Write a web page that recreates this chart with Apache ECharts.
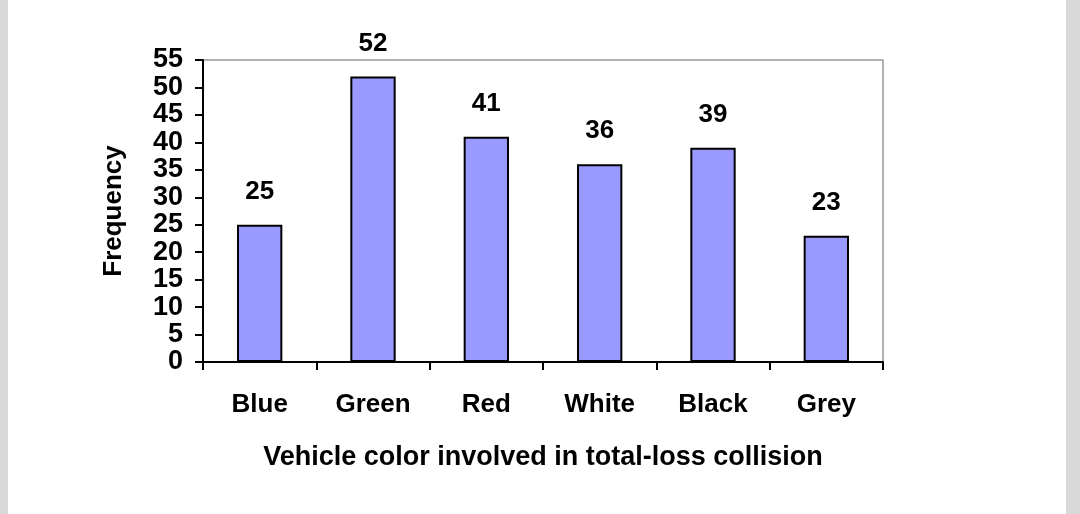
<!DOCTYPE html>
<html><head><meta charset="utf-8">
<script src="https://cdn.jsdelivr.net/npm/echarts@6/dist/echarts.min.js"></script>
<style>html,body{margin:0;padding:0;background:#fff}
#wrap{position:absolute;left:0;top:0;width:1080px;height:514px;background:#d9d9d9}
#c{position:absolute;left:8px;top:0;width:1058px;height:514px;background:#fff}</style>
</head><body><div id="wrap"><div id="c"></div></div>
<script>
const categories = ['Blue','Green','Red','White','Black','Grey'];
const frequency = [25,52,41,36,39,23];
const chart = echarts.init(document.getElementById('c'));
const F = '"Liberation Sans", Arial, sans-serif';
chart.setOption({
  animation:false,
  grid:{left:195,top:60,width:680,height:302,show:true,borderColor:'#999',borderWidth:1.5,backgroundColor:'transparent'},
  xAxis:{type:'category',data:categories,
    axisLine:{lineStyle:{color:'#000',width:2}},
    axisTick:{show:true,alignWithLabel:false,length:8,lineStyle:{color:'#000',width:2}},
    axisLabel:{color:'#000',fontFamily:F,fontWeight:'bold',fontSize:26,margin:30},
    name:'Vehicle color involved in total-loss collision',nameLocation:'middle',nameGap:82,
    nameTextStyle:{color:'#000',fontFamily:F,fontWeight:'bold',fontSize:27}},
  yAxis:{type:'value',min:0,max:55,interval:5,
    splitLine:{show:false},
    axisLine:{show:true,lineStyle:{color:'#000',width:2}},
    axisTick:{show:true,length:8,lineStyle:{color:'#000',width:2}},
    axisLabel:{color:'#000',fontFamily:F,fontWeight:'bold',fontSize:27,margin:20,lineHeight:24},
    name:'Frequency',nameLocation:'middle',nameGap:76,
    nameTextStyle:{color:'#000',fontFamily:F,fontWeight:'bold',fontSize:26}},
  series:[{type:'bar',data:frequency,barWidth:'40%',
    itemStyle:{color:'#9999ff',borderColor:'#000',borderWidth:2},
    label:{show:true,position:'top',distance:20,color:'#000',fontFamily:F,fontWeight:'bold',fontSize:26}}]
});
</script></body></html>
